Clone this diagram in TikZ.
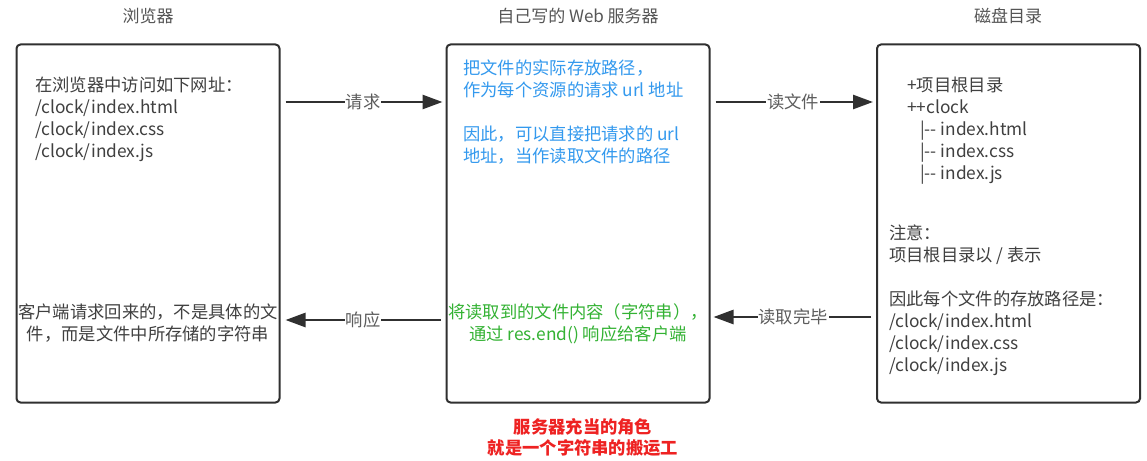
\documentclass[tikz,border=0pt]{standalone}
\usepackage{fontspec}
\setmainfont{Noto Sans CJK SC}
\usetikzlibrary{arrows.meta}
\definecolor{ink}{HTML}{404040}
\definecolor{boxline}{HTML}{303030}
\definecolor{ttl}{HTML}{555555}
\definecolor{blu}{HTML}{3399EE}
\definecolor{grn}{HTML}{33B233}
\definecolor{rd}{HTML}{EE2222}
\tikzset{
  panel/.style={draw=boxline, line width=2pt, rounded corners=4pt, minimum width=263pt, minimum height=358pt, inner sep=0pt},
  ttlfont/.style={font=\fontsize{17}{22}\selectfont, text=ttl, inner sep=0pt},
  body/.style={font=\fontsize{17.3}{22}\selectfont, text=ink, inner sep=0pt, align=left, anchor=north west},
  arr/.style={draw=boxline, line width=2.6pt, -{Triangle[length=20pt,width=14pt]}},
  lbl/.style={fill=white, text=ink!85, font=\fontsize{17.3}{22}\selectfont, inner sep=1pt}
}
\begin{document}
\begin{tikzpicture}[x=1pt,y=-1pt]
\useasboundingbox[fill=white] (0,0) rectangle (1147,460);
% panels
\node[panel] (L) at (148,223.5) {};
\node[panel] (M) at (578,223.5) {};
\node[panel] (R) at (1008.5,223.5) {};
% titles
\node[ttlfont] (tL) at (148,16) {浏览器};
\node[ttlfont] (tM) at (578,16) {自己写的 Web 服务器};
\node[ttlfont] (tR) at (1008,16) {磁盘目录};
% left panel text
\node[body] (lt) at (35,77) {在浏览器中访问如下网址：\\/clock/index.html\\/clock/index.css\\/clock/index.js};
\node[body, align=center, anchor=north] (lb) at (148,304) {客户端请求回来的，不是具体的文\\件，而是文件中所存储的字符串};
% middle panel text
\node[body, text=blu] (mt) at (463,60) {把文件的实际存放路径，\\作为每个资源的请求 url 地址\\[22pt]因此，可以直接把请求的 url\\地址，当作读取文件的路径};
\node[body, text=grn, align=center, anchor=north] (mb) at (578,303) {将读取到的文件内容（字符串），\\通过 res.end() 响应给客户端};
% right panel text
\node[body] (rt) at (907,77) {+项目根目录\\++clock\\\hspace*{13pt}|-{}- index.html\\\hspace*{13pt}|-{}- index.css\\\hspace*{13pt}|-{}- index.js};
\node[body] (rb) at (889,225) {注意：\\项目根目录以 / 表示\\[22pt]因此每个文件的存放路径是：\\/clock/index.html\\/clock/index.css\\/clock/index.js};
% bottom note
\node[font=\fontsize{17.3}{21}\selectfont\bfseries, text=rd, align=center, inner sep=0pt, anchor=north] (note) at (583,418) {服务器充当的角色\\就是一个字符串的搬运工};
% connectors
\draw[arr, shorten <=5pt, shorten >=3pt] (L.east |- 0,102) -- node[lbl] {请求} (M.west |- 0,102);
\draw[arr, shorten <=5pt, shorten >=3pt] (M.east |- 0,102) -- node[lbl] {读文件} (R.west |- 0,102);
\draw[arr, shorten <=5pt, shorten >=5pt] (M.west |- 0,320) -- node[lbl] {响应} (L.east |- 0,320);
\draw[arr, shorten <=5pt, shorten >=3pt] (R.west |- 0,317) -- node[lbl] {读取完毕} (M.east |- 0,317);
\end{tikzpicture}
\end{document}
